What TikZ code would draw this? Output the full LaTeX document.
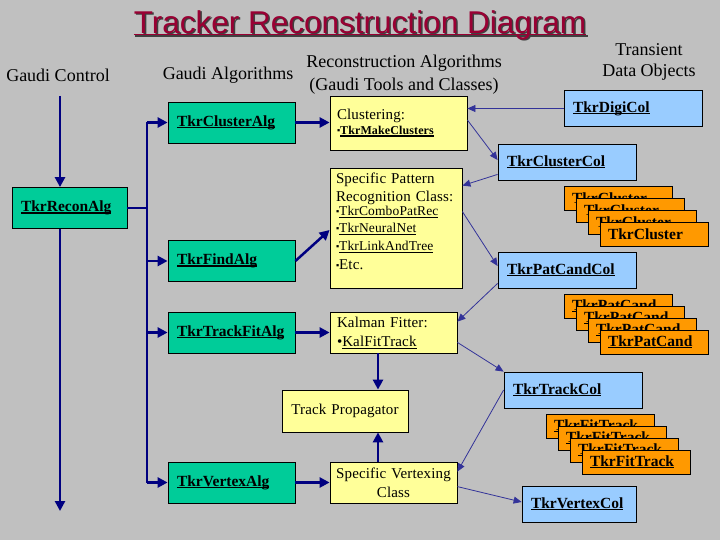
\documentclass[tikz,border=0pt]{standalone}
\usepackage{fontspec}
\setmainfont{Liberation Serif}
\newfontfamily\titlefont{Liberation Sans}
\newfontfamily\toolfont[LetterSpace=1]{Liberation Serif}
\usepackage{tikz}
\usetikzlibrary{arrows.meta, positioning}

\definecolor{bggray}{HTML}{C0C0C0}
\definecolor{algfill}{HTML}{00CC99}
\definecolor{toolfill}{HTML}{FFFF99}
\definecolor{datafill}{HTML}{99CCFF}
\definecolor{objfill}{HTML}{FF9900}
\definecolor{flownavy}{HTML}{000080}
\definecolor{linkblue}{HTML}{333399}
\definecolor{titlered}{HTML}{990033}

% underline close under the baseline, as in the slide
\newcommand{\ulbold}[1]{\setbox0\hbox{#1}\rlap{\rule[-2.2pt]{\wd0}{1.5pt}}\box0}
\newcommand{\ulthin}[1]{\setbox0\hbox{#1}\rlap{\rule[-2.4pt]{\wd0}{0.8pt}}\box0}
\newcommand{\sqb}{{\fontsize{9}{9}\selectfont\raisebox{1pt}{▪}}}

\begin{document}
\begin{tikzpicture}[
    x=1pt, y=-1pt,
    head/.style={font=\fontsize{18}{21}\selectfont, align=center, inner sep=0pt},
    alg/.style={rectangle, draw, thick, fill=algfill, minimum height=41pt, text width=109pt, inner xsep=9pt, align=left, font=\fontsize{15.5}{18}\selectfont\bfseries},
    tool/.style={rectangle, draw, thick, fill=toolfill, inner xsep=7pt, inner ysep=2pt, align=left, font=\toolfont\fontsize{15}{18}\selectfont},
    data/.style={rectangle, draw, thick, fill=datafill, minimum height=36pt, text width=120pt, inner xsep=9pt, align=left, font=\fontsize{15.5}{18}\selectfont\bfseries},
    obj/.style={rectangle, draw, thick, fill=objfill, minimum height=24pt, text width=92pt, inner xsep=8pt, align=left, font=\fontsize{15.5}{18}\selectfont\bfseries},
    flow/.style={-{Triangle[length=10pt, width=10pt]}, line width=2.5pt, flownavy},
    trunk/.style={line width=2.5pt, flownavy},
    link/.style={-{Triangle[length=8pt, width=7pt]}, line width=0.8pt, linkblue}
]

\fill[bggray] (0,0) rectangle (720,540);
\useasboundingbox (0,0) rectangle (720,540);

% Title
\node[font=\titlefont\fontsize{31.5}{36}\selectfont, text=black!75, inner sep=0pt] at (361.5,26.5) {\ulbold{Tracker Reconstruction Diagram}};
\node[font=\titlefont\fontsize{31.5}{36}\selectfont, text=titlered, inner sep=0pt] (title) at (360,25) {\ulbold{Tracker Reconstruction Diagram}};

% Column headings
\node[head] (hcontrol) at (58,75) {Gaudi Control};
\node[head] (halgs) at (228,75) {Gaudi Algorithms};
\node[head, font=\fontsize{18}{23}\selectfont] (htools) at (404,75) {Reconstruction Algorithms\\(Gaudi Tools and Classes)};
\node[head] (hdata) at (649,62) {Transient\\Data Objects};

% Gaudi algorithms
\node[alg, text width=97pt] (recon) at (69.5,208) {\ulbold{TkrReconAlg}};
\node[alg] (clusteralg) at (231.5,122.5) {\ulbold{TkrClusterAlg}};
\node[alg] (findalg) at (231.5,261) {\ulbold{TkrFindAlg}};
\node[alg] (fitalg) at (231.5,332.5) {\ulbold{TkrTrackFitAlg}};
\node[alg] (vertexalg) at (231.5,482.5) {\ulbold{TkrVertexAlg}};

% Tools and classes
\node[tool, text width=123pt, minimum height=54pt] (clustering) at (398.5,123) {Clustering:\\[-3pt]{\fontsize{12}{14}\selectfont\bfseries\sqb\ulbold{TkrMakeClusters}}};
\node[tool, text width=120pt, inner xsep=6pt, minimum height=120pt] (pattern) at (396,228) {Specific Pattern\\Recognition Class:\\[-2pt]
  {\fontsize{13.5}{16.5}\selectfont\sqb\ulthin{TkrComboPatRec}\\\sqb\ulthin{TkrNeuralNet}\\\sqb\ulthin{TkrLinkAndTree}}\\[1pt]
  {\fontsize{15}{18}\selectfont\sqb Etc.}\rule[-14pt]{0pt}{1pt}};
\node[tool, text width=113pt, minimum height=41pt] (kalman) at (393.5,332.5) {Kalman Fitter:\\[1pt]•\ulthin{KalFitTrack}};
\node[tool, text width=112pt, minimum height=42pt, align=center] (propagator) at (345,411) {Track Propagator};
\node[tool, text width=119pt, inner xsep=4pt, minimum height=41pt, align=center] (vertexing) at (393.5,482.5) {Specific Vertexing\\[1pt]Class};

% Transient data objects
\node[data] (digicol) at (633,108.5) {\ulbold{TkrDigiCol}};
\node[data] (clustercol) at (567,162) {\ulbold{TkrClusterCol}};
\node[data] (patcandcol) at (567,270) {\ulbold{TkrPatCandCol}};
\node[data] (trackcol) at (573,390) {\ulbold{TkrTrackCol}};
\node[data, text width=96pt] (vertexcol) at (579,504) {\ulbold{TkrVertexCol}};

% Stacked object collections
\foreach \i in {0,...,3} {
  \node[obj] (cluster\i) at (618+12*\i,198+12*\i) {TkrCluster};
  \node[obj] (patcand\i) at (618+12*\i,306+12*\i) {\ulbold{TkrPatCand}};
  \node[obj] (fittrack\i) at (600+12*\i,426+12*\i) {\ulbold{TkrFitTrack}};
}

% Gaudi control flow
\coordinate (ctltop) at (60,96);
\coordinate (ctlbot) at (60,511);
\coordinate (branch) at (147,208);
\draw[flow] (ctltop) -- (ctltop |- recon.north);
\draw[flow] (ctltop |- recon.south) -- (ctlbot);
\draw[trunk] (recon.east) -- (branch);
\draw[trunk] (branch |- clusteralg.west) -- (branch |- vertexalg.west);
\foreach \a in {clusteralg, findalg, fitalg, vertexalg}
  \draw[flow] (branch |- \a.west) -- (\a.west);

% Algorithms call tools
\draw[flow] (clusteralg.east) -- (clusteralg.east -| clustering.west);
\draw[flow] (findalg.east) -- ([yshift=-2pt]pattern.west);
\draw[flow] (fitalg.east) -- (kalman.west);
\draw[flow] (vertexalg.east) -- (vertexing.west);
\draw[flow] ([xshift=-15.5pt]kalman.south) -- ([xshift=-15.5pt]kalman.south |- propagator.north);
\draw[flow] ([xshift=-15.5pt]vertexing.north) -- ([xshift=-15.5pt]vertexing.north |- propagator.south);

% Data in and out of the TDS
\draw[link] (digicol.west) -- (digicol.west -| clustering.east);
\draw[link] ([yshift=3pt]clustering.east) -- ([yshift=2pt]clustercol.west);
\draw[link] ([yshift=6pt]clustercol.south west) -- ([yshift=-18pt]pattern.north east);
\draw[link] ([yshift=-44pt]pattern.north east) -- ([yshift=4pt]patcandcol.west);
\draw[link] ([yshift=5pt]patcandcol.south west) -- ([yshift=-10pt]kalman.north east);
\draw[link] ([yshift=11pt]kalman.south east) -- (trackcol.north west);
\draw[link] (trackcol.west) -- ([yshift=-10pt]vertexing.north east);
\draw[link] ([yshift=-25pt]vertexing.north east) -- ([yshift=2pt]vertexcol.west);

\end{tikzpicture}
\end{document}
